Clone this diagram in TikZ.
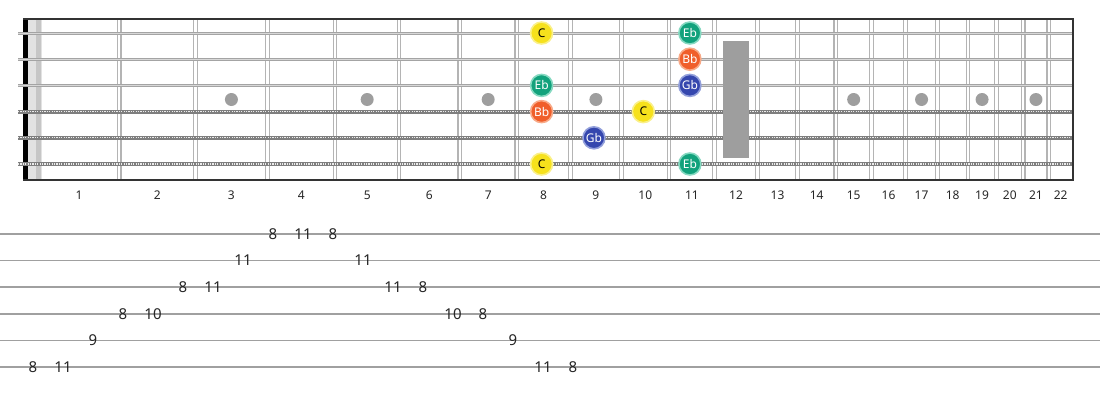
\documentclass[tikz,border=0pt]{standalone}
\usepackage{fontspec}
\setmainfont{Noto Sans}

\definecolor{fretgray}{HTML}{B4B4B4}
\definecolor{stringgray}{HTML}{A4A4A4}
\definecolor{stringlight}{HTML}{D8D8D8}
\definecolor{woundgray}{HTML}{7E7E7E}
\definecolor{inlaygray}{HTML}{9E9E9E}
\definecolor{nutgray}{HTML}{E2E2E2}
\definecolor{nutdark}{HTML}{C6C6C6}
\definecolor{tabgray}{HTML}{A0A0A0}
\definecolor{cfill}{HTML}{F6E11C}
\definecolor{cring}{HTML}{FAF08A}
\definecolor{ebfill}{HTML}{12A27C}
\definecolor{ebring}{HTML}{86D9C1}
\definecolor{bbfill}{HTML}{F05E2A}
\definecolor{bbring}{HTML}{F8AA88}
\definecolor{gbfill}{HTML}{3547AE}
\definecolor{gbring}{HTML}{93A0DB}

\begin{document}
\begin{tikzpicture}[x=1pt,y=-1pt]
\tikzstyle{every node}+=[inner sep=0pt]
\tikzstyle{fret}=[fretgray, line width=1.1pt]
\tikzstyle{plainstring}=[stringgray, line width=3pt]
\tikzstyle{stringshine}=[stringlight, line width=0.9pt]
\tikzstyle{woundstring}=[woundgray, line width=3.8pt]
\tikzstyle{winding}=[white!85!gray, line width=1.2pt, dash pattern=on 1.1pt off 1.3pt]
\tikzstyle{fretnum}=[font=\fontsize{12}{12}\selectfont, text=black!85]
\tikzstyle{note}=[circle, minimum size=22pt, line width=1.6pt, font=\fontsize{12}{12}\selectfont]
\tikzstyle{noteC}=[note, fill=cfill, draw=cring, text=black]
\tikzstyle{noteEb}=[note, fill=ebfill, draw=ebring, text=white]
\tikzstyle{noteBb}=[note, fill=bbfill, draw=bbring, text=white]
\tikzstyle{noteGb}=[note, fill=gbfill, draw=gbring, text=white]
\tikzstyle{tabline}=[tabgray, line width=1.6pt]
\tikzstyle{tabnum}=[font=\fontsize{15}{15}\selectfont, text=black!85]
\useasboundingbox (0,0) rectangle (1100,400);

% nut
\fill [nutgray] (28,19) rectangle (42,180);
\fill [nutdark] (36,19) rectangle (41,180);
\fill [black] (23,19) rectangle (28,180);

% frets and fret numbers
\foreach \n in {1,...,21} {
  \pgfmathsetmacro{\fx}{39+1437*(1-pow(2,-\n/12))}
  \draw [fret] (\fx-1.7,19) -- (\fx-1.7,180);
  \draw [fret] (\fx+1.7,19) -- (\fx+1.7,180);
}
\foreach \n in {1,...,22} {
  \pgfmathsetmacro{\lx}{39+1437*(1-0.5*(pow(2,-(\n-1)/12)+pow(2,-\n/12)))}
  \node [fretnum] (f\n) at (\lx,195) {\n};
}

% inlays
\foreach \n in {3,5,7,9,15,17,19,21} {
  \pgfmathsetmacro{\lx}{39+1437*(1-0.5*(pow(2,-(\n-1)/12)+pow(2,-\n/12)))}
  \fill [inlaygray] (\lx,99.5) circle (6.5);
}

% strings
\foreach \s in {1,2,3} {
  \pgfmathsetmacro{\sy}{33+26.2*(\s-1)}
  \draw [plainstring] (18,\sy) -- (1073,\sy);
  \draw [stringshine] (18,\sy) -- (1073,\sy);
}
\foreach \s in {4,5,6} {
  \pgfmathsetmacro{\sy}{33+26.2*(\s-1)}
  \draw [woundstring] (18,\sy) -- (1073,\sy);
  \draw [winding] (18,\sy) -- (1073,\sy);
}

% 12th fret marker
\fill [inlaygray] (723,41) rectangle (749,158);

% border
\draw [black!80, line width=2pt] (23,19) -- (1073,19);
\draw [black!80, line width=2pt] (23,180) -- (1073,180);
\draw [black!80, line width=2pt] (1073,18) -- (1073,181);

% notes
\foreach \s/\n/\nm/\sty in {1/8/C/noteC, 1/11/Eb/noteEb, 2/11/Bb/noteBb, 3/11/Gb/noteGb,
    3/8/Eb/noteEb, 4/8/Bb/noteBb, 4/10/C/noteC, 5/9/Gb/noteGb, 6/8/C/noteC, 6/11/Eb/noteEb} {
  \pgfmathsetmacro{\lx}{39+1437*(1-0.5*(pow(2,-(\n-1)/12)+pow(2,-\n/12)))-2}
  \pgfmathsetmacro{\sy}{33+26.2*(\s-1)}
  \node [\sty] (n\s-\n) at (\lx,\sy) {\nm};
}

% tab
\foreach \s in {1,...,6} {
  \pgfmathsetmacro{\ty}{234+26.6*(\s-1)}
  \draw [tabline] (0,\ty) -- (1100,\ty);
}
\foreach \s/\n [count=\k from 0] in {6/8, 6/11, 5/9, 4/8, 4/10, 3/8, 3/11, 2/11, 1/8, 1/11,
    1/8, 2/11, 3/11, 3/8, 4/10, 4/8, 5/9, 6/11, 6/8} {
  \pgfmathsetmacro{\ty}{234+26.6*(\s-1)}
  \node [tabnum] (t\k) at (33+30*\k,\ty) {\n};
}
\end{tikzpicture}
\end{document}
